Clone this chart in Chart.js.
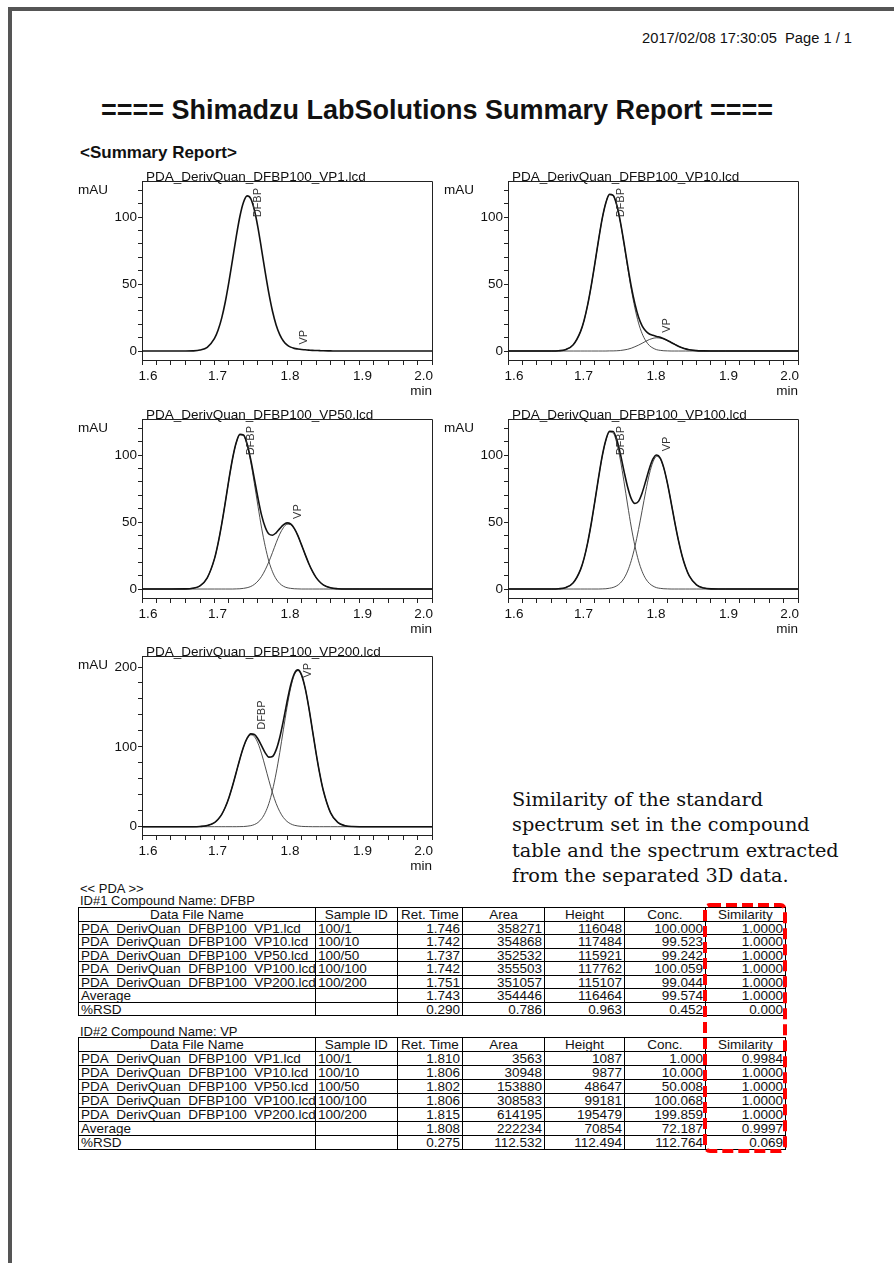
<!DOCTYPE html>
<html>
<head>
<meta charset="utf-8">
<title>Shimadzu LabSolutions Summary Report</title>
<script src="https://cdn.jsdelivr.net/npm/chart.js@4.4.0/dist/chart.umd.min.js"></script>
<style>
  html, body { margin: 0; padding: 0; background: #fff; }
  body { position: relative; width: 894px; height: 1263px; overflow: hidden;
         font-family: "Liberation Sans", Arial, sans-serif; color: #111; }
  .abs { position: absolute; white-space: pre; line-height: 1; }
  #pageEdge { position: absolute; left: 8px; top: 7px; width: 900px; height: 1300px;
              border-top: 4px solid #555; border-left: 4px solid #555; }
  #stamp { right: 42px; top: 31px; font-size: 14.7px; }
  #mainTitle { left: 437px; top: 97px; font-size: 27px; font-weight: bold; transform: translateX(-50%); }
  #subTitle { left: 80px; top: 144px; font-size: 17px; font-weight: bold; }
  #note { position: absolute; left: 512px; top: 787px; font-family: "DejaVu Serif", serif;
          font-size: 19.3px; line-height: 25.3px; white-space: pre; color: #111; }
  .small { font-size: 13px; }
  canvas { position: absolute; }
  .tbl { position: absolute; left: 78px; display: grid;
         grid-template-columns: 237px 81.7px 65.3px 82px 80px 81px 80px;
         border-top: 1px solid #000; border-left: 1px solid #000; font-size: 13.5px; }
  .tbl div { box-sizing: border-box; border-right: 1px solid #000; border-bottom: 1px solid #000;
             padding: 0 2px; overflow: hidden; white-space: pre; line-height: 13px; }
  .tbl .h { text-align: center; }
  .tbl .n { text-align: right; }
  #simBox { position: absolute; left: 700px; top: 900px; }
</style>
</head>
<body>
<div id="pageEdge"></div>
<div id="stamp" class="abs">2017/02/08 17:30:05  Page 1 / 1</div>
<div id="mainTitle" class="abs">==== Shimadzu LabSolutions Summary Report ====</div>
<div id="subTitle" class="abs">&lt;Summary Report&gt;</div>

<canvas id="c1" width="375" height="235" style="left:70px;top:165px"></canvas>
<canvas id="c2" width="375" height="235" style="left:436px;top:165px"></canvas>
<canvas id="c3" width="375" height="235" style="left:70px;top:403px"></canvas>
<canvas id="c4" width="375" height="235" style="left:436px;top:403px"></canvas>
<canvas id="c5" width="375" height="235" style="left:70px;top:640px"></canvas>

<div id="note">Similarity of the standard
spectrum set in the compound
table and the spectrum extracted
from the separated 3D data.</div>

<div class="abs small" style="left:80px;top:882px">&lt;&lt; PDA &gt;&gt;</div>
<div class="abs small" style="left:80px;top:894px">ID#1 Compound Name: DFBP</div>
<div id="t1" class="tbl" style="top:907px;grid-auto-rows:13.5px"></div>
<div class="abs small" style="left:80px;top:1025px">ID#2 Compound Name: VP</div>
<div id="t2" class="tbl" style="top:1037px;grid-auto-rows:14px"></div>

<svg id="simBox" width="92" height="258">
  <rect x="5" y="5" width="80" height="246" rx="5" ry="5" fill="none"
        stroke="#ff0000" stroke-width="4" stroke-dasharray="11 5"/>
</svg>

<script>
// ── DATA ─────────────────────────────────────────────────────
var fileNames = ['PDA_DerivQuan_DFBP100_VP1.lcd', 'PDA_DerivQuan_DFBP100_VP10.lcd', 'PDA_DerivQuan_DFBP100_VP50.lcd',
                 'PDA_DerivQuan_DFBP100_VP100.lcd', 'PDA_DerivQuan_DFBP100_VP200.lcd'];
var sampleIds = ['100/1', '100/10', '100/50', '100/100', '100/200'];

var dfbpRet = [1.746, 1.742, 1.737, 1.742, 1.751];
var dfbpArea = [358271, 354868, 352532, 355503, 351057];
var dfbpHeight = [116048, 117484, 115921, 117762, 115107];
var dfbpConc = [100.000, 99.523, 99.242, 100.059, 99.044];
var dfbpSim = [1.0000, 1.0000, 1.0000, 1.0000, 1.0000];
var dfbpAvg = [1.743, 354446, 116464, 99.574, 1.0000];
var dfbpRsd = [0.290, 0.786, 0.963, 0.452, 0.000];

var vpRet = [1.810, 1.806, 1.802, 1.806, 1.815];
var vpArea = [3563, 30948, 153880, 308583, 614195];
var vpHeight = [1087, 9877, 48647, 99181, 195479];
var vpConc = [1.000, 10.000, 50.008, 100.068, 199.859];
var vpSim = [0.9984, 1.0000, 1.0000, 1.0000, 1.0000];
var vpAvg = [1.808, 222234, 70854, 72.187, 0.9997];
var vpRsd = [0.275, 112.532, 112.494, 112.764, 0.069];

// retention time axis (min) shared by every trace
var times = [1.60, 1.64, 1.66, 1.67, 1.68, 1.69, 1.70, 1.705, 1.71, 1.715, 1.72, 1.725, 1.73, 1.735, 1.74, 1.745,
             1.75, 1.755, 1.76, 1.765, 1.77, 1.775, 1.78, 1.785, 1.79, 1.795, 1.80, 1.805, 1.81, 1.815, 1.82, 1.825,
             1.83, 1.835, 1.84, 1.845, 1.85, 1.86, 1.87, 1.88, 1.89, 1.90, 1.93, 2.00];

// mAU traces: total signal and the two separated components
var vp1Total = [0, 0, 0, 0.1, 0.7, 2.8, 9.4, 15.7, 24.8, 37.0, 52.0, 68.7, 85.5, 100.5, 111.1, 115.9,
                113.8, 105.3, 92.0, 75.6, 58.7, 43.0, 29.7, 19.5, 12.3, 7.5, 4.6, 2.9, 2.0, 1.5, 1.1, 0.9,
                0.7, 0.5, 0.4, 0.3, 0.2, 0.1, 0, 0, 0, 0, 0, 0];

var vp10Total = [0, 0, 0, 0.2, 1.2, 4.7, 14.5, 23.0, 34.8, 49.4, 66.0, 83.3, 99.1, 110.8, 117.0, 116.3,
                 109.1, 96.5, 80.7, 63.9, 48.3, 35.4, 25.4, 18.8, 14.9, 12.7, 11.7, 10.9, 10.2, 9.2, 7.9, 6.4,
                 5.0, 3.6, 2.5, 1.6, 1.0, 0.3, 0.1, 0, 0, 0, 0, 0];
var vp10Dfbp = [0, 0, 0, 0.2, 1.2, 4.7, 14.5, 23.0, 34.8, 49.4, 66.0, 83.3, 99.1, 110.8, 116.9, 116.2,
                108.9, 96.1, 79.9, 62.6, 46.2, 32.2, 21.0, 13.0, 7.6, 4.1, 2.2, 1.0, 0.5, 0.2, 0.1, 0,
                0, 0, 0, 0, 0, 0, 0, 0, 0, 0, 0, 0];
var vp10Vp = [0, 0, 0, 0, 0, 0, 0, 0, 0, 0, 0, 0, 0, 0, 0.1, 0.1,
              0.2, 0.4, 0.8, 1.3, 2.1, 3.2, 4.4, 5.8, 7.3, 8.6, 9.5, 9.9, 9.7, 9.0, 7.8, 6.4,
              5.0, 3.6, 2.5, 1.6, 1.0, 0.3, 0.1, 0, 0, 0, 0, 0];

var vp50Total = [0, 0, 0.1, 0.6, 2.4, 8.4, 22.7, 34.3, 48.7, 65.1, 82.2, 97.7, 109.4, 115.5, 115.1, 108.4,
                 96.7, 82.3, 67.8, 55.0, 46.2, 41.1, 40.2, 42.0, 45.1, 47.9, 49.4, 48.6, 45.3, 39.9, 33.0, 25.9,
                 19.1, 13.3, 8.7, 5.4, 3.1, 0.9, 0.2, 0, 0, 0, 0, 0];
var vp50Dfbp = [0, 0, 0.1, 0.6, 2.4, 8.4, 22.7, 34.3, 48.7, 65.1, 82.2, 97.7, 109.3, 115.3, 114.6, 107.4,
                94.8, 78.8, 61.8, 45.5, 31.8, 20.7, 12.9, 7.5, 4.1, 2.1, 1.0, 0.5, 0.2, 0.1, 0, 0,
                0, 0, 0, 0, 0, 0, 0, 0, 0, 0, 0, 0];
var vp50Vp = [0, 0, 0, 0, 0, 0, 0, 0, 0, 0, 0, 0, 0.1, 0.2, 0.5, 1.0,
              1.9, 3.5, 6.0, 9.5, 14.4, 20.4, 27.3, 34.5, 41.0, 45.8, 48.4, 48.1, 45.1, 39.8, 33.0, 25.9,
              19.1, 13.3, 8.7, 5.4, 3.1, 0.9, 0.2, 0, 0, 0, 0, 0];

var vp100Total = [0, 0, 0, 0.2, 1.2, 4.7, 14.5, 23.1, 34.9, 49.5, 66.2, 83.5, 99.4, 111.3, 117.8, 117.7,
                  111.6, 100.9, 88.1, 76.2, 67.5, 63.9, 65.5, 71.8, 80.7, 90.1, 97.2, 100.1, 97.8, 90.3, 78.7, 64.6,
                  50.0, 36.5, 25.1, 16.3, 9.9, 3.1, 0.8, 0.1, 0, 0, 0, 0];
var vp100Dfbp = [0, 0, 0, 0.2, 1.2, 4.7, 14.5, 23.1, 34.9, 49.5, 66.2, 83.5, 99.3, 111.1, 117.2, 116.5,
                 109.2, 96.4, 80.1, 62.8, 46.3, 32.3, 21.1, 13.1, 7.6, 4.2, 2.2, 1.0, 0.5, 0.2, 0.1, 0,
                 0, 0, 0, 0, 0, 0, 0, 0, 0, 0, 0, 0];
var vp100Vp = [0, 0, 0, 0, 0, 0, 0, 0, 0, 0, 0, 0, 0.1, 0.2, 0.6, 1.2,
               2.4, 4.5, 8.0, 13.4, 21.2, 31.6, 44.4, 58.7, 73.1, 85.9, 95.0, 99.1, 97.3, 90.1, 78.6, 64.6,
               50.0, 36.5, 25.1, 16.3, 9.9, 3.1, 0.8, 0.1, 0, 0, 0, 0];

var vp200Total = [0, 0, 0, 0, 0.3, 1.4, 5.2, 9.3, 15.5, 24.6, 36.7, 51.6, 68.1, 84.9, 99.9, 110.9,
                  116.3, 115.6, 109.8, 101.2, 92.5, 87.1, 88.0, 96.2, 111.8, 132.9, 156.2, 177.2, 191.6, 196.4, 190.2, 173.8,
                  149.7, 121.4, 92.9, 67.1, 45.6, 17.6, 5.3, 1.3, 0.2, 0, 0, 0];
var vp200Dfbp = [0, 0, 0, 0, 0.3, 1.4, 5.2, 9.3, 15.5, 24.6, 36.7, 51.6, 68.1, 84.8, 99.7, 110.3,
                 115.0, 112.9, 104.5, 91.2, 74.9, 58.0, 42.4, 29.1, 18.9, 11.5, 6.6, 3.6, 1.8, 0.9, 0.4, 0.2,
                 0.1, 0, 0, 0, 0, 0, 0, 0, 0, 0, 0, 0];
var vp200Vp = [0, 0, 0, 0, 0, 0, 0, 0, 0, 0, 0, 0, 0, 0.1, 0.2, 0.6,
               1.3, 2.7, 5.3, 10.0, 17.6, 29.1, 45.6, 67.1, 92.9, 121.4, 149.6, 173.6, 189.8, 195.5, 189.8, 173.6,
               149.6, 121.4, 92.9, 67.1, 45.6, 17.6, 5.3, 1.3, 0.2, 0, 0, 0];

var FONT = '"Liberation Sans", Arial, sans-serif';

// ── CHART DECORATION (frame, titles, x labels, peak names) ──
var reportPlugin = {
  id: 'report',
  afterDraw: function (chart, args, opts) {
    var ctx = chart.ctx, a = chart.chartArea;
    var xs = chart.scales.x, ys = chart.scales.y;
    ctx.save();

    ctx.fillStyle = '#111';
    ctx.font = '13.5px ' + FONT;
    ctx.textAlign = 'left';
    ctx.textBaseline = 'alphabetic';
    ctx.fillText(opts.title, a.left + 4, a.top - 0.5);

    // frame drawn after the title so it sits over the underscores, as in the print
    ctx.strokeStyle = '#222';
    ctx.lineWidth = 1;
    ctx.beginPath();
    ctx.moveTo(a.left, a.top + 0.5);
    ctx.lineTo(a.right + 0.5, a.top + 0.5);
    ctx.lineTo(a.right + 0.5, a.bottom);
    ctx.stroke();

    ctx.textBaseline = 'middle';
    ctx.fillText('mAU', a.left - 64, a.top + 9);
    ctx.textAlign = 'right';
    ctx.fillText('min', a.right, a.bottom + 31);

    var majors = xs.ticks.filter(function (t) {
      return Math.abs(t.value * 10 - Math.round(t.value * 10)) < 1e-6;
    });
    majors.forEach(function (t, i) {
      var px = xs.getPixelForValue(t.value);
      var txt = t.value.toFixed(1);
      if (i === majors.length - 1) {
        ctx.textAlign = 'right';
        ctx.fillText(txt, a.right + 1, a.bottom + 16);
      } else {
        ctx.textAlign = 'center';
        ctx.fillText(txt, px + (i === 0 ? 6 : 3), a.bottom + 16);
      }
    });

    ctx.font = '11px ' + FONT;
    ctx.fillStyle = '#333';
    (opts.peaks || []).forEach(function (p) {
      var px = xs.getPixelForValue(p.t), py = ys.getPixelForValue(p.h);
      var w = ctx.measureText(p.name).width;
      var bottom = py - 5;
      if (bottom - w < a.top + 7) bottom = a.top + 7 + w;
      ctx.save();
      ctx.translate(px + 10, bottom);
      ctx.rotate(-Math.PI / 2);
      ctx.textAlign = 'left';
      ctx.textBaseline = 'middle';
      ctx.fillText(p.name, 0, 0);
      ctx.restore();
    });
    ctx.restore();
  }
};

function toPoints(values) {
  return values.map(function (v, i) { return { x: times[i], y: v }; });
}

function drawChromatogram(canvasId, idx, total, dfbp, vp, yMin, yMax, yStep, yLabelStep) {
  var ds = [{ data: toPoints(total), borderColor: '#111', borderWidth: 1.6 }];
  if (dfbp) ds.push({ data: toPoints(dfbp), borderColor: '#3a3a3a', borderWidth: 0.9 });
  if (vp) ds.push({ data: toPoints(vp), borderColor: '#3a3a3a', borderWidth: 0.9 });
  var peaks = [
    { name: 'DFBP', t: dfbpRet[idx], h: dfbpHeight[idx] / 1000 },
    { name: 'VP', t: vpRet[idx], h: vpHeight[idx] / 1000 }
  ];
  new Chart(document.getElementById(canvasId), {
    type: 'line',
    data: { datasets: ds },
    options: {
      responsive: false, animation: false, devicePixelRatio: 1, events: [],
      layout: { padding: { top: 16, right: 13, bottom: 0, left: 0 } },
      elements: { point: { radius: 0 }, line: { cubicInterpolationMode: 'monotone', fill: false } },
      plugins: {
        legend: { display: false }, tooltip: { enabled: false },
        report: { title: fileNames[idx], peaks: peaks }
      },
      scales: {
        x: {
          type: 'linear', min: 1.6, max: 2.0,
          afterFit: function (s) { s.height = 40; },
          ticks: { display: false, stepSize: 0.02 },
          grid: { drawOnChartArea: false, tickLength: 5, color: '#222' },
          border: { color: '#222', width: 1 }
        },
        y: {
          type: 'linear', min: yMin, max: yMax,
          afterFit: function (s) { s.width = 72; },
          ticks: {
            stepSize: yStep, includeBounds: false, autoSkip: false, padding: 1, color: '#111',
            font: { family: FONT, size: 13.5 },
            callback: function (v) { return v % yLabelStep === 0 ? String(v) : ''; }
          },
          grid: { drawOnChartArea: false, tickLength: 4, color: '#222' },
          border: { color: '#222', width: 1 }
        }
      }
    },
    plugins: [reportPlugin]
  });
}

drawChromatogram('c1', 0, vp1Total, null, null, -6.7, 127, 10, 50);
drawChromatogram('c2', 1, vp10Total, vp10Dfbp, vp10Vp, -6.7, 127, 10, 50);
drawChromatogram('c3', 2, vp50Total, vp50Dfbp, vp50Vp, -6.7, 127, 10, 50);
drawChromatogram('c4', 3, vp100Total, vp100Dfbp, vp100Vp, -6.7, 127, 10, 50);
drawChromatogram('c5', 4, vp200Total, vp200Dfbp, vp200Vp, -10.4, 213.8, 20, 100);

// ── RESULT TABLES ────────────────────────────────────────────
function cell(text, cls) {
  return '<div class="' + (cls || '') + '">' + text + '</div>';
}

function buildTable(elId, ret, area, height, conc, sim, avg, rsd) {
  var html = '';
  ['Data File Name', 'Sample ID', 'Ret. Time', 'Area', 'Height', 'Conc.', 'Similarity'].forEach(function (h) {
    html += cell(h, 'h');
  });
  for (var i = 0; i < fileNames.length; i++) {
    html += cell(fileNames[i]) + cell(sampleIds[i]);
    html += cell(ret[i].toFixed(3), 'n') + cell(String(area[i]), 'n') + cell(String(height[i]), 'n');
    html += cell(conc[i].toFixed(3), 'n') + cell(sim[i].toFixed(4), 'n');
  }
  html += cell('Average') + cell('') + cell(avg[0].toFixed(3), 'n') + cell(String(avg[1]), 'n') +
          cell(String(avg[2]), 'n') + cell(avg[3].toFixed(3), 'n') + cell(avg[4].toFixed(4), 'n');
  html += cell('%RSD') + cell('');
  rsd.forEach(function (v) { html += cell(v.toFixed(3), 'n'); });
  document.getElementById(elId).innerHTML = html;
}

buildTable('t1', dfbpRet, dfbpArea, dfbpHeight, dfbpConc, dfbpSim, dfbpAvg, dfbpRsd);
buildTable('t2', vpRet, vpArea, vpHeight, vpConc, vpSim, vpAvg, vpRsd);
</script>
</body>
</html>
